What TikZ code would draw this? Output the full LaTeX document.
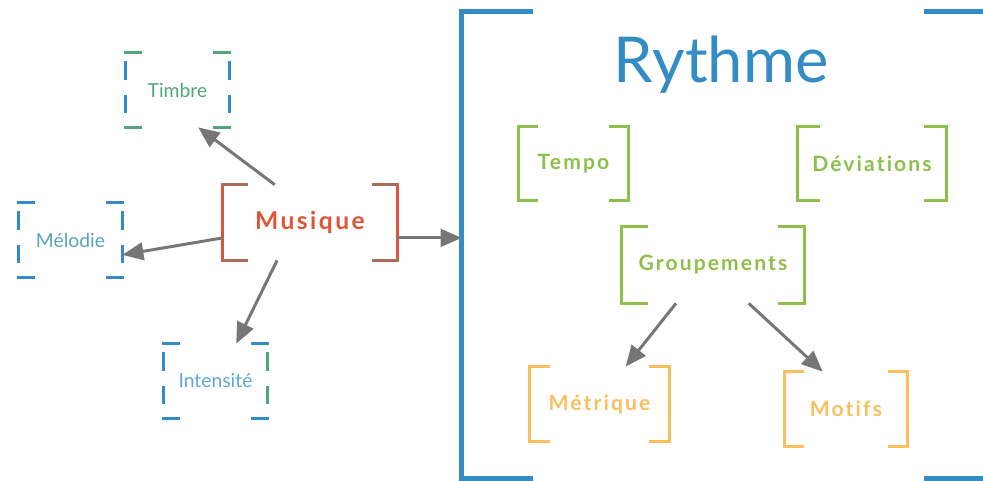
\documentclass[tikz,border=0pt]{standalone}
\usepackage{fontspec}
\setmainfont{Lato}
\newfontfamily\espace{Lato}[LetterSpace=10, Ligatures=NoCommon]
\usetikzlibrary{arrows.meta}

\definecolor{bleu}{RGB}{52,140,196}
\definecolor{vert}{RGB}{140,192,75}
\definecolor{jaune}{RGB}{250,192,95}
\definecolor{rouge}{RGB}{224,84,56}
\definecolor{brun}{RGB}{172,108,92}
\definecolor{vertbleu}{RGB}{82,165,120}
\definecolor{sarcelle}{RGB}{88,165,185}
\definecolor{ciel}{RGB}{95,168,214}
\definecolor{gris}{RGB}{118,118,118}

% crochets pleins : noeud, couleur des montants, couleur des coins, longueur des coins
\newcommand{\crochets}[4]{%
  \draw[trait, #2] (#1.north west) -- (#1.south west);
  \draw[trait, #2] (#1.north east) -- (#1.south east);
  \draw[trait, #3] ([xshift=#4]#1.north west) -- (#1.north west);
  \draw[trait, #3] ([xshift=#4]#1.south west) -- (#1.south west);
  \draw[trait, #3] ([xshift=-#4]#1.north east) -- (#1.north east);
  \draw[trait, #3] ([xshift=-#4]#1.south east) -- (#1.south east);
}
% crochets en tirets : noeud, gauche, droite, coins
\newcommand{\pointilles}[4]{%
  \draw[trait, tirets, #2] (#1.north west) -- (#1.south west);
  \draw[trait, tirets, #3] (#1.north east) -- (#1.south east);
  \draw[trait, #4] (#1.north west) -- ++(8.5pt,0);
  \draw[trait, #4] (#1.south west) -- ++(8.5pt,0);
  \draw[trait, #4] (#1.north east) -- ++(-8.5pt,0);
  \draw[trait, #4] (#1.south east) -- ++(-8.5pt,0);
}

\begin{document}
\begin{tikzpicture}[x=0.02cm, y=-0.02cm,
    fleche/.style={gris, line width=1.7pt, -{Triangle[length=12pt,width=10pt]}},
    trait/.style={line width=1.7pt, line cap=rect},
    tirets/.style={line cap=butt, dash pattern=on 10.5pt off 8.5pt, dash phase=14pt},
    petit/.style={minimum width=2.06cm, minimum height=1.48cm, inner sep=0pt, font=\fontsize{11}{13}\selectfont},
    fort/.style={inner sep=0pt, font=\espace\bfseries\fontsize{12}{14}\selectfont}]
  \clip (0,0) rectangle (983,480);

  % gauche
  \node[fort, text=rouge, font=\espace\bfseries\fontsize{14}{16}\selectfont, minimum width=3.48cm, minimum height=1.5cm] (musique) at (310,222.5) {Musique};
  \node[petit, text=vertbleu] (timbre) at (177.5,90) {Timbre};
  \node[petit, text=sarcelle] (melodie) at (70.5,240) {Mélodie};
  \node[petit, text=ciel] (intensite) at (215.5,381) {Intensité};

  \crochets{musique}{rouge}{brun}{13.5pt}
  \pointilles{timbre}{bleu}{bleu}{vertbleu}
  \pointilles{melodie}{bleu}{bleu}{bleu}
  \pointilles{intensite}{bleu}{vertbleu}{bleu}

  % droite
  \node[minimum width=10.66cm, minimum height=9.32cm] (rythme) at (728.5,245) {};
  \node[text=bleu, font=\fontsize{36}{40}\selectfont, anchor=base] (titre) at (721,82) {Rythme};
  \node[fort, text=vert, minimum width=2.18cm, minimum height=1.46cm] (tempo) at (573.5,163.5) {Tempo};
  \node[fort, text=vert, minimum width=2.96cm, minimum height=1.46cm] (deviations) at (872,163.5) {Déviations};
  \node[fort, text=vert, minimum width=3.64cm, minimum height=1.52cm] (groupements) at (713,265) {Groupements};
  \node[fort, text=jaune, minimum width=2.78cm, minimum height=1.48cm] (metrique) at (599.5,404) {Métrique};
  \node[fort, text=jaune, minimum width=2.44cm, minimum height=1.48cm] (motifs) at (846,409) {Motifs};

  \crochets{rythme}{bleu, line width=2.8pt}{bleu, line width=2.8pt}{39pt}
  \crochets{tempo}{vert}{vert}{10pt}
  \crochets{deviations}{vert}{vert}{12pt}
  \crochets{groupements}{vert}{vert}{14pt}
  \crochets{metrique}{jaune}{jaune}{11pt}
  \crochets{motifs}{jaune}{jaune}{10pt}

  % fleches
  \draw[fleche] (musique.133) -- (timbre.299);
  \draw[fleche] (musique.190) -- (melodie.-16);
  \draw[fleche] (musique.229) -- (intensite.61);
  \draw[fleche] (musique.-10) -- (musique.-10 -| rythme.west);
  \draw[fleche] (groupements.226) -- (metrique.55);
  \draw[fleche] (groupements.-47) -- (motifs.122);
\end{tikzpicture}
\end{document}
